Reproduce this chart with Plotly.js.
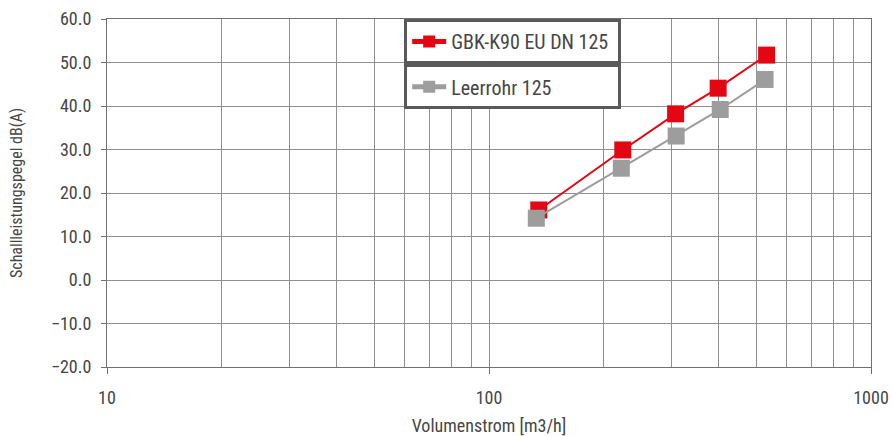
<!DOCTYPE html>
<html>
<head>
<meta charset="utf-8">
<script src="https://cdn.plot.ly/plotly-3.0.1.min.js"></script>
<style>html,body{margin:0;padding:0;background:#fff;}#chart{width:892px;height:436px;}</style>
</head>
<body>
<div id="chart"></div>
<script>
const seriesNames = ["GBK-K90 EU DN 125", "Leerrohr 125"];
const xRed = [135, 224, 308, 398, 533];
const yRed = [16.1, 29.9, 38.2, 44.1, 51.7];
const xGray = [133, 222, 309, 403, 528];
const yGray = [14.2, 25.7, 33.1, 39.2, 46.1];
const xMajorTicks = [10, 100, 1000];
const xMinorTicks = [20, 30, 40, 50, 60, 70, 80, 90, 200, 300, 400, 500, 600, 700, 800, 900];
const xTitle = "Volumenstrom [m3/h]";
const yTitle = "Schallleistungspegel dB(A)";

const FONT = "'Roboto Condensed', 'Liberation Sans Narrow', 'DejaVu Sans Condensed', 'Arial Narrow', Roboto, sans-serif";
const textColor = "#464646";
const gridColor = "#8f8f8f";
const lineColor = "#707070";

const traces = [
  {x: xRed, y: yRed, name: seriesNames[0], type: "scatter", mode: "lines+markers",
   line: {color: "#e30613", width: 2}, marker: {symbol: "square", size: 17, color: "#e30613"},
   legend: "legend"},
  {x: xGray, y: yGray, name: seriesNames[1], type: "scatter", mode: "lines+markers",
   line: {color: "#9d9d9d", width: 2}, marker: {symbol: "square", size: 17, color: "#9d9d9d"},
   legend: "legend2"}
];

const legendCommon = {
  xref: "paper", yref: "paper", xanchor: "left", yanchor: "top",
  bgcolor: "#ffffff", bordercolor: "#5a5a5a", borderwidth: 3,
  font: {family: FONT, size: 20, color: textColor},
  orientation: "h", entrywidth: 162, entrywidthmode: "pixels", itemwidth: 34,
  itemsizing: "constant"
};

const layout = {
  width: 892, height: 436,
  margin: {l: 107, r: 21, t: 19, b: 69},
  paper_bgcolor: "#ffffff", plot_bgcolor: "#ffffff",
  font: {family: FONT, size: 17, color: textColor},
  showlegend: true,
  legend: Object.assign({}, legendCommon, {x: 0.389, y: 1.0}),
  legend2: Object.assign({}, legendCommon, {x: 0.389, y: 0.87}),
  xaxis: {
    type: "log", range: [1, 3],
    tickmode: "array", tickvals: xMajorTicks, ticktext: xMajorTicks.map(String),
    ticks: "outside", ticklen: 6, tickcolor: lineColor, tickwidth: 1,
    ticklabelstandoff: 8,
    showgrid: true, gridcolor: gridColor, gridwidth: 1,
    minor: {tickmode: "array", tickvals: xMinorTicks, showgrid: true, gridcolor: gridColor, gridwidth: 1, ticks: ""},
    showline: true, linecolor: lineColor, linewidth: 1, mirror: true,
    zeroline: false,
    tickfont: {family: FONT, size: 18, color: textColor},
    title: {text: xTitle, font: {family: FONT, size: 18, color: textColor}, standoff: 13}
  },
  yaxis: {
    range: [-20, 60], dtick: 10, tick0: 0, tickformat: ".1f",
    ticks: "outside", ticklen: 5, tickcolor: lineColor, tickwidth: 1,
    ticklabelstandoff: 6,
    showgrid: true, gridcolor: gridColor, gridwidth: 1,
    showline: true, linecolor: lineColor, linewidth: 1, mirror: true,
    zeroline: false,
    tickfont: {family: FONT, size: 18, color: textColor},
    title: {text: yTitle, font: {family: FONT, size: 16, color: textColor}, standoff: 24}
  }
};

Plotly.newPlot("chart", traces, layout, {displayModeBar: false, staticPlot: true});
</script>
</body>
</html>
